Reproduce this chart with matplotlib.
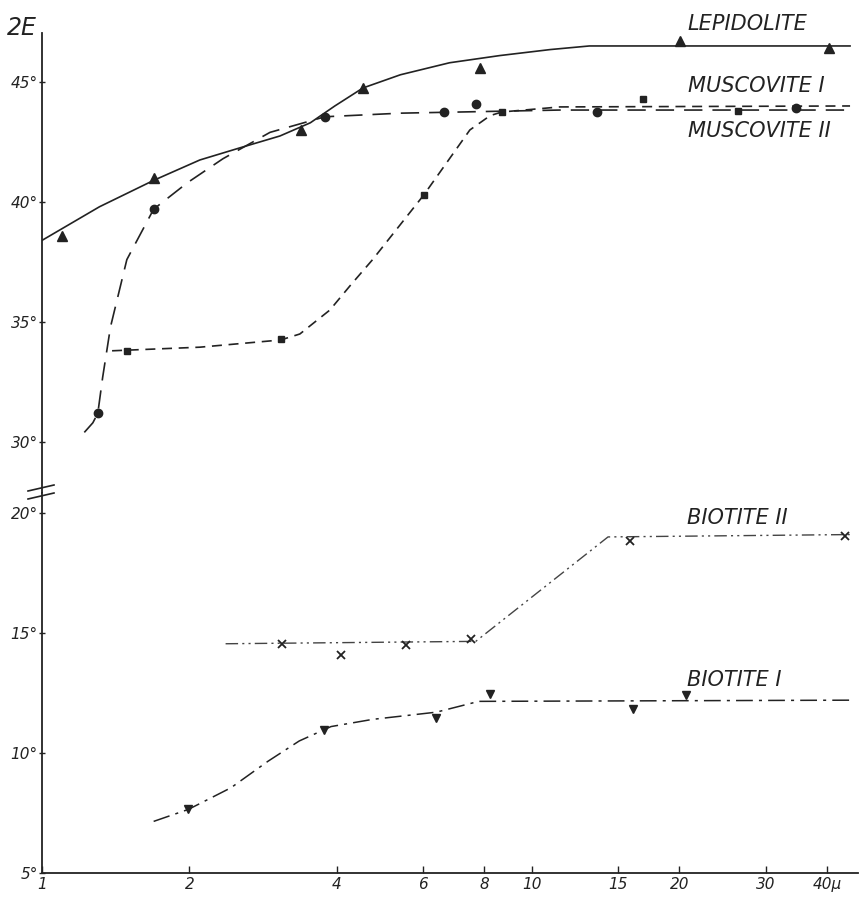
import matplotlib
matplotlib.use('Agg')
import matplotlib.pyplot as plt
from matplotlib import font_manager
from matplotlib.lines import Line2D

# grain size in micron (log axis) and 2E in degrees
lep_x = [1.10, 1.69, 3.38, 4.52, 7.83, 20.1, 40.4]
lep_y = [38.6, 41.0, 43.0, 44.75, 45.6, 46.7, 46.4]
lep_cx = [1.0, 1.31, 1.69, 2.10, 2.53, 3.06, 3.53, 3.96, 4.52, 5.39, 6.79, 8.60, 10.9, 13.1, 44.6]
lep_cy = [38.4, 39.8, 40.9, 41.75, 42.25, 42.75, 43.3, 44.0, 44.75, 45.3, 45.8, 46.1, 46.35, 46.5, 46.5]

mus1_x = [1.49, 3.07, 6.02, 8.69, 16.85, 26.3]
mus1_y = [33.8, 34.3, 40.3, 43.75, 44.3, 43.8]
mus1_cx = [1.39, 2.10, 3.07, 3.36, 3.87, 4.25, 4.73, 6.02, 7.47, 8.22, 8.69, 11.4, 44.6]
mus1_cy = [33.8, 33.95, 34.25, 34.5, 35.5, 36.5, 37.6, 40.3, 43.0, 43.6, 43.75, 43.96, 44.0]

mus2_x = [1.30, 1.69, 3.78, 6.62, 7.68, 13.6, 34.6]
mus2_y = [31.2, 39.7, 43.55, 43.75, 44.1, 43.75, 43.9]
mus2_cx = [1.22, 1.27, 1.30, 1.33, 1.38, 1.49, 1.69, 1.98, 2.34, 2.92, 3.78, 5.39, 11.4, 44.6]
mus2_cy = [30.4, 30.8, 31.2, 32.7, 34.8, 37.6, 39.7, 40.8, 41.8, 42.9, 43.55, 43.7, 43.83, 43.83]

bio2_x = [3.09, 4.08, 5.53, 7.51, 15.85, 43.6]
bio2_y = [14.55, 14.1, 14.5, 14.75, 18.85, 19.05]
bio2_cx = [2.37, 7.68, 14.3, 45.3]
bio2_cy = [14.55, 14.65, 19.0, 19.1]

bio1_x = [1.99, 3.77, 6.38, 8.20, 16.1, 20.6]
bio1_y = [7.65, 10.95, 11.45, 12.45, 11.85, 12.4]
bio1_cx = [1.69, 1.99, 2.43, 2.89, 3.35, 3.89, 4.73, 6.38, 7.79, 45.3]
bio1_cy = [7.15, 7.65, 8.55, 9.65, 10.5, 11.1, 11.4, 11.7, 12.15, 12.2]

xticks = [1, 2, 4, 6, 8, 10, 15, 20, 30, 40]
xlabels = ['1', '2', '4', '6', '8', '10', '15', '20', '30', '40\u03bc']
top_ticks = [30, 35, 40, 45]
bot_ticks = [5, 10, 15, 20]

names = {f.name for f in font_manager.fontManager.ttflist}
family = 'Liberation Sans Narrow' if 'Liberation Sans Narrow' in names else 'DejaVu Sans'
plt.rcParams.update({'font.family': family, 'font.style': 'italic'})

ink = '#222222'
W, H = 861, 899
fig = plt.figure(figsize=(W / 100, H / 100), dpi=100)

def fx(px):
    return px / W

def fy(py):
    return 1 - py / H

left, right = fx(42), fx(858)
ax_top = fig.add_axes([left, fy(493), right - left, fy(33) - fy(493)])
ax_bot = fig.add_axes([left, fy(873), right - left, fy(493) - fy(873)])

for ax in (ax_top, ax_bot):
    ax.set_xscale('log')
    ax.set_xlim(1, 46.3)
    for s in ('top', 'right'):
        ax.spines[s].set_visible(False)
    ax.spines['left'].set_color(ink)
    ax.spines['left'].set_linewidth(1.3)
    ax.minorticks_off()
    ax.tick_params(axis='y', direction='inout', length=4, width=1, colors=ink,
                   labelsize=11, pad=1)

ax_top.set_ylim(27.875, 47.04)
ax_top.spines['bottom'].set_visible(False)
ax_top.tick_params(axis='x', which='both', bottom=False, labelbottom=False)
ax_top.set_yticks(top_ticks)
ax_top.set_yticklabels(['%d\u00b0' % t for t in top_ticks])

ax_bot.set_ylim(5, 20.83)
ax_bot.spines['bottom'].set_color(ink)
ax_bot.spines['bottom'].set_linewidth(1.3)
ax_bot.set_yticks(bot_ticks)
ax_bot.set_yticklabels(['%d\u00b0' % t for t in bot_ticks])
ax_bot.set_xticks(xticks)
ax_bot.set_xticklabels(xlabels)
ax_bot.tick_params(axis='x', direction='in', length=5, width=1, colors=ink,
                   labelsize=11, pad=3)

# upper group
ax_top.plot(lep_cx, lep_cy, color=ink, lw=1.2)
ax_top.plot(lep_x, lep_y, ls='none', marker='^', ms=7, color=ink)

ax_top.plot(mus1_cx, mus1_cy, color=ink, lw=1.2, dashes=(6, 4))
ax_top.plot(mus1_x, mus1_y, ls='none', marker='s', ms=5, color=ink)

ax_top.plot(mus2_cx, mus2_cy, color=ink, lw=1.2, dashes=(11, 6))
ax_top.plot(mus2_x, mus2_y, ls='none', marker='o', ms=6, color=ink)

# lower group
ax_bot.plot(bio2_cx, bio2_cy, color='#444444', lw=1.0,
            dashes=(9, 3, 1.5, 3, 1.5, 3))
ax_bot.plot(bio2_x, bio2_y, ls='none', marker='x', ms=6, mew=1.3, color=ink)

ax_bot.plot(bio1_cx, bio1_cy, color=ink, lw=1.1, dashes=(11, 4, 2, 4))
ax_bot.plot(bio1_x, bio1_y, ls='none', marker='v', ms=6, color=ink)

lab = dict(fontsize=15, color=ink, ha='left', va='center', clip_on=False)
ax_top.text(20.8, 47.4, 'LEPIDOLITE', **lab)
ax_top.text(20.8, 44.85, 'MUSCOVITE I', **lab)
ax_top.text(20.8, 42.95, 'MUSCOVITE II', **lab)
ax_bot.text(20.7, 19.8, 'BIOTITE II', **lab)
ax_bot.text(20.7, 13.05, 'BIOTITE I', **lab)

fig.text(fx(22), fy(28), '2E', fontsize=17, color=ink, ha='center', va='center')

# break marks on the ordinate
for y0, y1 in ((491, 485), (499, 493)):
    fig.add_artist(Line2D([fx(28), fx(54)], [fy(y0), fy(y1)], color=ink, lw=1.2))

fig.savefig('out.png', dpi=100)
